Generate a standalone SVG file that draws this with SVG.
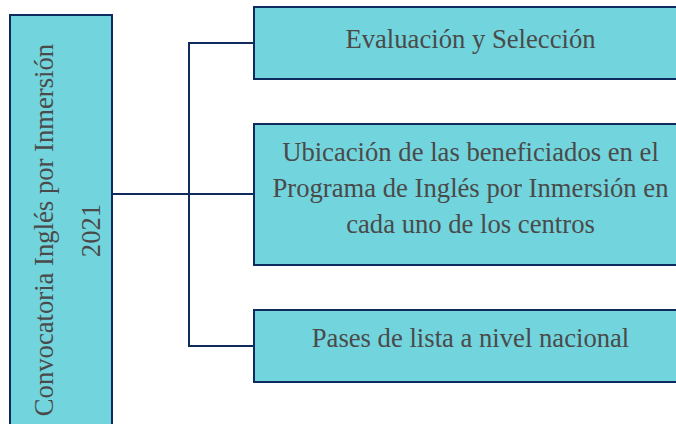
<svg xmlns="http://www.w3.org/2000/svg" width="676" height="424" viewBox="0 0 676 424">
<style>
.box{fill:#72d4dc;stroke:#0f2b5e;stroke-width:2}
.t{font-family:"Liberation Serif","Times New Roman",serif;font-size:26.67px;fill:#4a4a4a;text-anchor:middle}
.c{fill:none;stroke:#0f2b5e;stroke-width:2}
</style>
<rect width="676" height="424" fill="#ffffff"/>
<g id="connectors">
<path class="c" d="M112,194 H189"/>
<path class="c" d="M254,43 H189 V346 H254"/>
<path class="c" d="M189,194 H254"/>
</g>
<g id="node-convocatoria">
<rect class="box" x="10" y="15" width="102" height="430"/>
<text class="t" transform="translate(53,230) rotate(-90)">Convocatoria Inglés por Inmersión</text>
<text class="t" transform="translate(100,230.5) rotate(-90)">2021</text>
</g>
<g id="node-evaluacion">
<rect class="box" x="254" y="7" width="433" height="72"/>
<text class="t" x="470.5" y="48">Evaluación y Selección</text>
</g>
<g id="node-ubicacion">
<rect class="box" x="254" y="124" width="433" height="141"/>
<text class="t" x="470.5" y="161">Ubicación de las beneficiados en el</text>
<text class="t" x="470.5" y="197">Programa de Inglés por Inmersión en</text>
<text class="t" x="470.5" y="233">cada uno de los centros</text>
</g>
<g id="node-pases">
<rect class="box" x="254" y="310" width="433" height="72"/>
<text class="t" x="470.5" y="347">Pases de lista a nivel nacional</text>
</g>
</svg>
